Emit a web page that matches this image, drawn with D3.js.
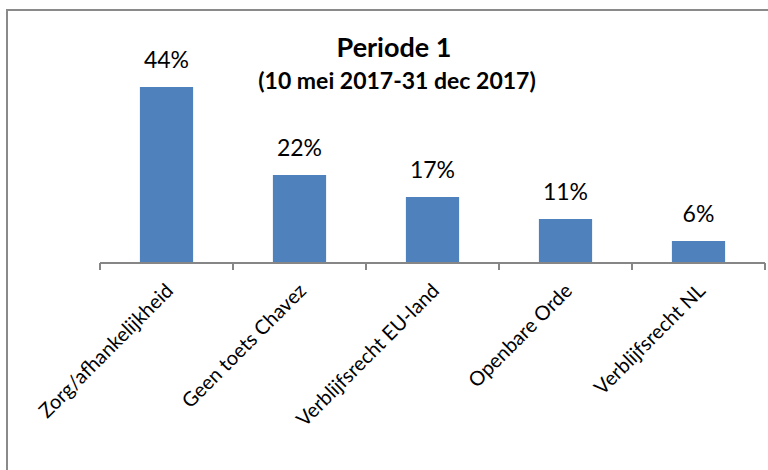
<!DOCTYPE html>
<html>
<head>
<meta charset="utf-8">
<script src="https://d3js.org/d3.v7.min.js"></script>
<style>
  body { margin: 0; background: #fff; }
  text { font-family: Lato, "Open Sans", sans-serif; fill: #000; }
</style>
</head>
<body>
<svg width="768" height="470"></svg>
<script>
// data
var categories = ["Zorg/afhankelijkheid", "Geen toets Chavez", "Verblijfsrecht EU-land", "Openbare Orde", "Verblijfsrecht NL"];
var values = [44, 22, 16.5, 11, 5.5];
var valueLabels = ["44%", "22%", "17%", "11%", "6%"];
var titleLines = ["Periode 1", "(10 mei 2017-31 dec 2017)"];

var svg = d3.select("svg");

// chart frame (runs off the right and bottom of the picture)
svg.append("rect")
  .attr("x", 7).attr("y", 10)
  .attr("width", 800).attr("height", 500)
  .attr("fill", "none")
  .attr("stroke", "#8a8a8a")
  .attr("stroke-width", 2);

var xScale = d3.scaleBand().domain(categories).range([100, 765]).paddingInner(0.6).paddingOuter(0.3);
var yScale = d3.scaleLinear().domain([0, 50]).range([263, 63]);

svg.selectAll("rect.bar")
  .data(values)
  .enter().append("rect")
  .attr("class", "bar")
  .attr("x", (d, i) => xScale(categories[i]))
  .attr("y", d => yScale(d))
  .attr("width", xScale.bandwidth())
  .attr("height", d => yScale(0) - yScale(d))
  .attr("fill", "#4f81bd");

svg.selectAll("text.val")
  .data(values)
  .enter().append("text")
  .attr("class", "val")
  .attr("x", (d, i) => xScale(categories[i]) + xScale.bandwidth() / 2)
  .attr("y", d => yScale(d) - 19)
  .attr("text-anchor", "middle")
  .style("font-size", "23px")
  .text((d, i) => valueLabels[i]);

// x axis with ticks between categories
var axis = svg.append("g");
axis.append("line")
  .attr("x1", 100).attr("x2", 765)
  .attr("y1", yScale(0)).attr("y2", yScale(0))
  .attr("stroke", "#868686").attr("stroke-width", 2);
var tickXs = d3.range(categories.length + 1).map(i => 100 + i * (665 / categories.length));
axis.selectAll("line.tick")
  .data(tickXs)
  .enter().append("line")
  .attr("class", "tick")
  .attr("x1", d => d).attr("x2", d => d)
  .attr("y1", yScale(0)).attr("y2", yScale(0) + 7)
  .attr("stroke", "#868686").attr("stroke-width", 2);

svg.selectAll("text.cat")
  .data(categories)
  .enter().append("text")
  .attr("class", "cat")
  .attr("transform", d => "translate(" + (xScale(d) + xScale.bandwidth() / 2 + 8) + "," + (yScale(0) + 29) + ") rotate(-45)")
  .attr("text-anchor", "end")
  .style("font-size", "20px")
  .text(d => d);

svg.append("text")
  .attr("x", 394).attr("y", 57)
  .attr("text-anchor", "middle")
  .style("font-size", "27px").style("font-weight", "bold")
  .text(titleLines[0]);
svg.append("text")
  .attr("x", 397).attr("y", 89)
  .attr("text-anchor", "middle")
  .style("font-size", "23px").style("font-weight", "bold")
  .text(titleLines[1]);
</script>
</body>
</html>
